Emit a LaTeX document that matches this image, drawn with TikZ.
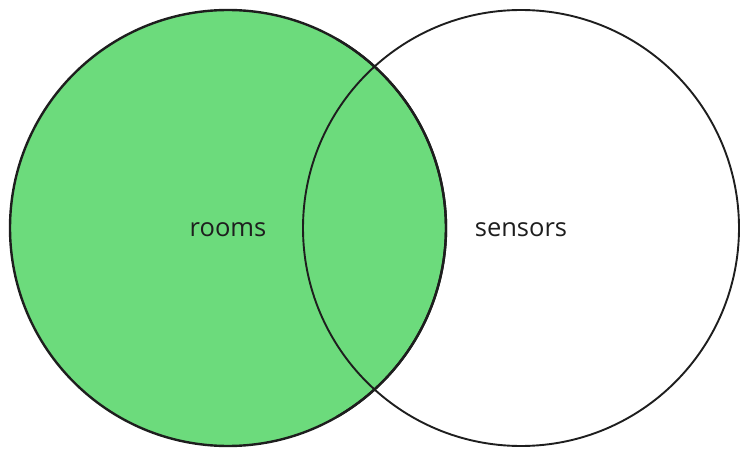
\documentclass[tikz,border=0pt]{standalone}
\usepackage{fontspec}
\setmainfont{Open Sans}
\definecolor{vgreen}{HTML}{6CDB7C}
\definecolor{ink}{HTML}{1E1E1E}
\begin{document}
\begin{tikzpicture}[x=1pt,y=-1pt,
  setcircle/.style={circle,draw=ink,line width=2.4pt,minimum size=436pt,inner sep=0pt},
  lbl/.style={font=\fontsize{25.5}{30}\selectfont,text=ink}]
\useasboundingbox (0,0) rectangle (750,457);
\node[setcircle,fill=vgreen] (rooms) at (228,228) {};
\node[setcircle,line width=1.9pt] (sensors) at (521,228) {};
\draw[ink,line width=2.4pt] (rooms.center) ++(0:218) arc[start angle=0,end angle=60,radius=218];
\draw[ink,line width=2.4pt] (rooms.center) ++(0:218) arc[start angle=0,end angle=-60,radius=218];
\node[lbl] (roomslbl) at (228,230) {rooms};
\node[lbl] (sensorslbl) at (521,230) {sensors};
\end{tikzpicture}
\end{document}
